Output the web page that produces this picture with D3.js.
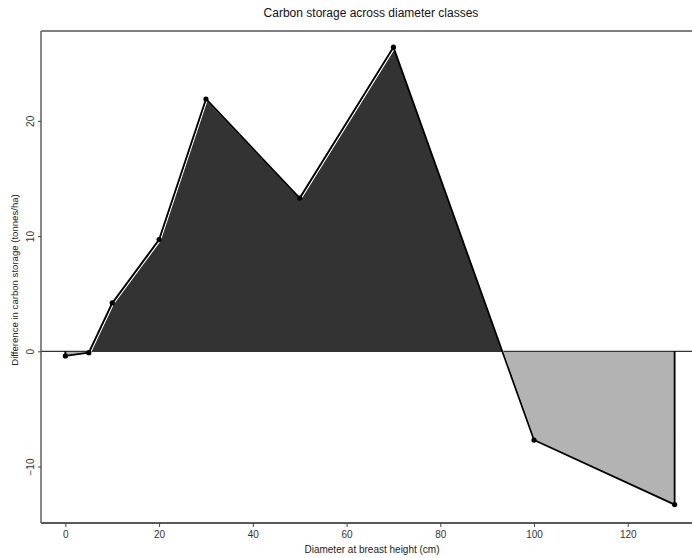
<html>
  <meta charset="utf-8" />
  <script src="https://d3js.org/d3.v7.min.js"></script>
  <style>
    body { margin: 0; background: #fff; }
    text { font-family: "Liberation Sans", Arial, sans-serif; }
  </style>
  <body>
    <svg width="692" height="558" id="chart"></svg>
    <script>
      // diameter classes (cm) and difference in carbon storage (tonnes/ha)
      const diameters = [0, 5, 10, 20, 30, 50, 70, 100, 130];
      const differences = [-0.4, -0.12, 4.2, 9.7, 21.9, 13.3, 26.4, -7.7, -13.3];
      const xTicks = [0, 20, 40, 60, 80, 100, 120];
      const yTicks = [-10, 0, 10, 20];

      const panelLeft = 41, panelTop = 31, panelRight = 699, panelBottom = 523;

      const data = diameters.map((d, i) => ({ x: d, y: differences[i] }));

      const x = d3.scaleLinear().domain([-5.2, 135.2]).range([panelLeft, panelRight]);
      const y = d3.scaleLinear().domain([-14.9, 27.8]).range([panelBottom, panelTop]);

      const svg = d3.select("#chart");
      svg.append("rect").attr("width", 692).attr("height", 558).attr("fill", "#fff");

      // split the line where it crosses zero so both sides can be filled
      const pts = [];
      data.forEach((p, i) => {
        if (i > 0) {
          const q = data[i - 1];
          if ((q.y < 0 && p.y > 0) || (q.y > 0 && p.y < 0)) {
            const t = q.y / (q.y - p.y);
            pts.push({ x: q.x + t * (p.x - q.x), y: 0 });
          }
        }
        pts.push(p);
      });

      const posArea = d3.area()
        .x((d) => x(d.x))
        .y0(y(0))
        .y1((d) => y(Math.max(d.y, 0)));
      const negArea = d3.area()
        .x((d) => x(d.x))
        .y0(y(0))
        .y1((d) => y(Math.min(d.y, 0)));

      svg.append("path")
        .datum(pts)
        .attr("d", negArea)
        .attr("fill", "#b3b3b3");
      svg.append("path")
        .datum(pts)
        .attr("d", posArea)
        .attr("fill", "#333333");

      // zero reference line
      svg.append("line")
        .attr("x1", panelLeft).attr("x2", 692)
        .attr("y1", y(0)).attr("y2", y(0))
        .attr("stroke", "#333").attr("stroke-width", 1.3);

      // outline: from zero, through the points, back to zero
      const outline = [{ x: diameters[0], y: 0 }, ...data, { x: diameters[diameters.length - 1], y: 0 }];
      const line = d3.line().x((d) => x(d.x)).y((d) => y(d.y));

      svg.append("path")
        .datum(data)
        .attr("d", line)
        .attr("transform", "translate(1,1.3)")
        .attr("fill", "none")
        .attr("stroke", "#fff")
        .attr("stroke-width", 1.2);

      svg.append("path")
        .datum(outline)
        .attr("d", line)
        .attr("fill", "none")
        .attr("stroke", "#000")
        .attr("stroke-width", 1.8)
        .attr("stroke-linejoin", "round");

      svg.selectAll("circle.pt")
        .data(data)
        .enter()
        .append("circle")
        .attr("class", "pt")
        .attr("cx", (d) => x(d.x))
        .attr("cy", (d) => y(d.y))
        .attr("r", 2.6)
        .attr("fill", "#000");

      // frame: top, left and bottom lines
      svg.append("line")
        .attr("x1", panelLeft).attr("x2", 692).attr("y1", panelTop).attr("y2", panelTop)
        .attr("stroke", "#555").attr("stroke-width", 1.4);

      const xAxis = svg.append("g")
        .attr("transform", `translate(0,${panelBottom})`)
        .call(d3.axisBottom(x).tickValues(xTicks).tickSize(4).tickPadding(4));
      xAxis.select(".domain")
        .attr("d", `M${panelLeft},0H692`)
        .attr("stroke", "#222").attr("stroke-width", 1.6);
      xAxis.selectAll(".tick line").attr("stroke", "#444");
      xAxis.selectAll(".tick text")
        .attr("font-size", 10).attr("fill", "#333")
        .attr("font-family", "Liberation Sans, Arial, sans-serif");

      const yAxis = svg.append("g")
        .attr("transform", `translate(${panelLeft},0)`)
        .call(d3.axisLeft(y).tickValues(yTicks).tickSize(3).tickPadding(0));
      yAxis.select(".domain")
        .attr("d", `M0,${panelTop}V${panelBottom}`)
        .attr("stroke", "#555").attr("stroke-width", 1.4);
      yAxis.selectAll(".tick line").attr("stroke", "#444");
      yAxis.selectAll(".tick text")
        .attr("x", 0).attr("dy", null).attr("y", 0)
        .attr("transform", "translate(-7,0) rotate(-90)")
        .attr("text-anchor", "middle")
        .attr("font-size", 10).attr("fill", "#333")
        .attr("font-family", "Liberation Sans, Arial, sans-serif");

      svg.append("text")
        .attr("x", 371).attr("y", 17)
        .attr("text-anchor", "middle")
        .attr("font-size", 12)
        .attr("fill", "#111")
        .text("Carbon storage across diameter classes");

      svg.append("text")
        .attr("x", 372).attr("y", 553)
        .attr("text-anchor", "middle")
        .attr("font-size", 10)
        .attr("fill", "#222")
        .text("Diameter at breast height (cm)");

      svg.append("text")
        .attr("transform", `translate(18,${(panelTop + panelBottom) / 2 + 3}) rotate(-90)`)
        .attr("text-anchor", "middle")
        .attr("font-size", 9.6)
        .attr("fill", "#222")
        .text("Difference in carbon storage (tonnes/ha)");
    </script>
  </body>
</html>
